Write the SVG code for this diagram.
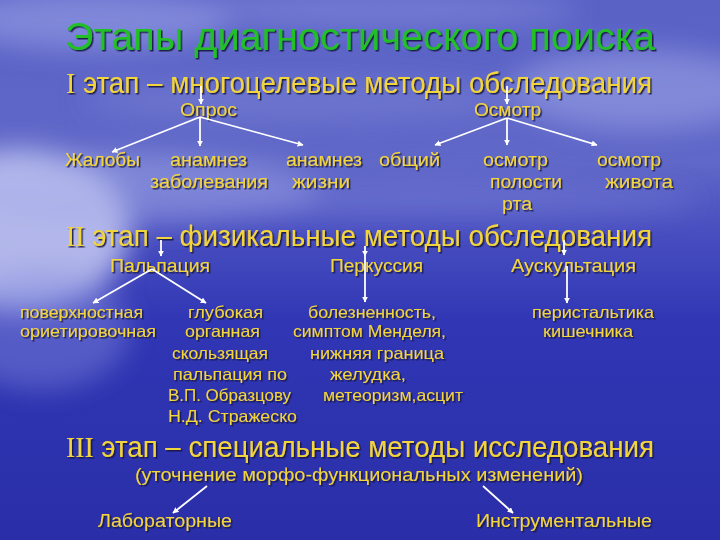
<svg xmlns="http://www.w3.org/2000/svg" width="720" height="540" viewBox="0 0 720 540">
<defs>
<linearGradient id="bg" x1="0" y1="0" x2="0" y2="1">
<stop offset="0" stop-color="#5a62c6"/>
<stop offset="0.3" stop-color="#6068c8"/>
<stop offset="0.42" stop-color="#4a50c0"/>
<stop offset="0.6" stop-color="#3036b4"/>
<stop offset="1" stop-color="#2a2ea8"/>
</linearGradient>
<radialGradient id="haze" cx="0" cy="0.5" r="1">
<stop offset="0" stop-color="#e8ecff" stop-opacity="0.9"/>
<stop offset="0.4" stop-color="#b8c0f0" stop-opacity="0.45"/>
<stop offset="1" stop-color="#8088e0" stop-opacity="0"/>
</radialGradient>
<filter id="blur" x="-50%" y="-50%" width="200%" height="200%"><feGaussianBlur stdDeviation="14"/></filter>
<filter id="sh" x="-5%" y="-20%" width="110%" height="140%"><feDropShadow dx="1.5" dy="1.5" stdDeviation="0.6" flood-color="#141440" flood-opacity="0.9"/></filter>
<marker id="ah" viewBox="0 0 10 10" refX="9" refY="5" markerWidth="6" markerHeight="6" orient="auto" markerUnits="userSpaceOnUse"><path d="M0,0 L10,5 L0,10 z" fill="#ffffff"/></marker>
<style>
.t{font-family:"Liberation Sans","DejaVu Sans",sans-serif;fill:#f2d43c;filter:url(#sh)}
.big{font-size:29px}
.mid{font-size:18px}
.sm{font-size:16.5px}
.title{font-family:"Liberation Sans","DejaVu Sans",sans-serif;font-size:38px;fill:#22c028;filter:url(#sh)}
.rom{font-family:"Liberation Serif",serif}
.c line{stroke:#ffffff;stroke-width:1.8;marker-end:url(#ah)}
</style>
</defs>
<rect width="720" height="540" fill="url(#bg)"/>
<g filter="url(#blur)" opacity="0.8">
<ellipse cx="90" cy="20" rx="140" ry="30" fill="#a8b0ee" opacity="0.6"/>
<ellipse cx="380" cy="10" rx="200" ry="18" fill="#9aa2e8" opacity="0.5"/>
<ellipse cx="640" cy="90" rx="130" ry="40" fill="#b0b8f0" opacity="0.55"/>
<ellipse cx="300" cy="100" rx="220" ry="22" fill="#8890dc" opacity="0.45"/>
<ellipse cx="20" cy="230" rx="110" ry="80" fill="#e6eaff" opacity="0.85"/>
<ellipse cx="120" cy="190" rx="200" ry="35" fill="#b8c0f2" opacity="0.5"/>
<ellipse cx="420" cy="200" rx="280" ry="20" fill="#8a92e0" opacity="0.4"/>
<ellipse cx="40" cy="330" rx="90" ry="60" fill="#9aa2e8" opacity="0.45"/>
</g>
<text class="title" x="65" y="50" textLength="590" lengthAdjust="spacingAndGlyphs">Этапы диагностического поиска</text>
<g id="stage1"><text class="t big" x="66" y="93" textLength="586" lengthAdjust="spacingAndGlyphs"><tspan class="rom">I</tspan> этап – многоцелевые методы обследования</text></g>
<g id="opros"><text class="t mid" x="180" y="116" textLength="57" lengthAdjust="spacingAndGlyphs">Опрос</text></g>
<g id="osmotr"><text class="t mid" x="474" y="116" textLength="67" lengthAdjust="spacingAndGlyphs">Осмотр</text></g>
<g id="zhaloby"><text class="t mid" x="65" y="166" textLength="75" lengthAdjust="spacingAndGlyphs">Жалобы</text></g>
<g id="anamnez-zab"><text class="t mid" x="170" y="166" textLength="77" lengthAdjust="spacingAndGlyphs">анамнез</text><text class="t mid" x="150" y="188" textLength="118" lengthAdjust="spacingAndGlyphs">заболевания</text></g>
<g id="anamnez-zh"><text class="t mid" x="286" y="166" textLength="76" lengthAdjust="spacingAndGlyphs">анамнез</text><text class="t mid" x="292" y="188" textLength="58" lengthAdjust="spacingAndGlyphs">жизни</text></g>
<g id="obshiy"><text class="t mid" x="379" y="166" textLength="61" lengthAdjust="spacingAndGlyphs">общий</text></g>
<g id="osm-rta"><text class="t mid" x="483" y="166" textLength="65" lengthAdjust="spacingAndGlyphs">осмотр</text><text class="t mid" x="490" y="188" textLength="72" lengthAdjust="spacingAndGlyphs">полости</text><text class="t mid" x="502" y="210" textLength="30" lengthAdjust="spacingAndGlyphs">рта</text></g>
<g id="osm-zhiv"><text class="t mid" x="597" y="166" textLength="64" lengthAdjust="spacingAndGlyphs">осмотр</text><text class="t mid" x="605" y="188" textLength="68" lengthAdjust="spacingAndGlyphs">живота</text></g>
<g id="stage2"><text class="t big" x="66" y="246" textLength="586" lengthAdjust="spacingAndGlyphs"><tspan class="rom">II</tspan> этап – физикальные методы обследования</text></g>
<g id="palp"><text class="t mid" x="110" y="272" textLength="100" lengthAdjust="spacingAndGlyphs">Пальпация</text></g>
<g id="perk"><text class="t mid" x="330" y="272" textLength="93" lengthAdjust="spacingAndGlyphs">Перкуссия</text></g>
<g id="ausk"><text class="t mid" x="511" y="272" textLength="125" lengthAdjust="spacingAndGlyphs">Аускультация</text></g>
<g id="poverh"><text class="t sm" x="20" y="318" textLength="123" lengthAdjust="spacingAndGlyphs">поверхностная</text><text class="t sm" x="20" y="337" textLength="136" lengthAdjust="spacingAndGlyphs">ориетировочная</text></g>
<g id="glub"><text class="t sm" x="188" y="318" textLength="75" lengthAdjust="spacingAndGlyphs">глубокая</text><text class="t sm" x="185" y="337" textLength="75" lengthAdjust="spacingAndGlyphs">органная</text><text class="t sm" x="172" y="359" textLength="96" lengthAdjust="spacingAndGlyphs">скользящая</text><text class="t sm" x="173" y="380" textLength="114" lengthAdjust="spacingAndGlyphs">пальпация по</text><text class="t sm" x="168" y="401" textLength="123" lengthAdjust="spacingAndGlyphs">В.П. Образцову</text><text class="t sm" x="168" y="422" textLength="129" lengthAdjust="spacingAndGlyphs">Н.Д. Стражеско</text></g>
<g id="bolezn"><text class="t sm" x="308" y="318" textLength="128" lengthAdjust="spacingAndGlyphs">болезненность,</text><text class="t sm" x="293" y="337" textLength="153" lengthAdjust="spacingAndGlyphs">симптом Менделя,</text><text class="t sm" x="310" y="359" textLength="134" lengthAdjust="spacingAndGlyphs">нижняя граница</text><text class="t sm" x="330" y="380" textLength="76" lengthAdjust="spacingAndGlyphs">желудка,</text><text class="t sm" x="323" y="401" textLength="140" lengthAdjust="spacingAndGlyphs">метеоризм,асцит</text></g>
<g id="perist"><text class="t sm" x="532" y="318" textLength="122" lengthAdjust="spacingAndGlyphs">перистальтика</text><text class="t sm" x="543" y="337" textLength="90" lengthAdjust="spacingAndGlyphs">кишечника</text></g>
<g id="stage3"><text class="t big" x="66" y="457" textLength="588" lengthAdjust="spacingAndGlyphs"><tspan class="rom">III</tspan> этап – специальные методы исследования</text><text class="t mid" x="135" y="481" textLength="448" lengthAdjust="spacingAndGlyphs">(уточнение морфо-функциональных изменений)</text></g>
<g id="lab"><text class="t mid" x="98" y="527" textLength="134" lengthAdjust="spacingAndGlyphs">Лабораторные</text></g>
<g id="instr"><text class="t mid" x="476" y="527" textLength="176" lengthAdjust="spacingAndGlyphs">Инструментальные</text></g>
<g id="connectors" class="c">
<line x1="201" y1="86" x2="201" y2="104"/>
<line x1="507" y1="86" x2="507" y2="104"/>
<line x1="200" y1="117" x2="112" y2="152"/>
<line x1="200" y1="117" x2="200" y2="146"/>
<line x1="200" y1="117" x2="303" y2="145"/>
<line x1="507" y1="118" x2="435" y2="145"/>
<line x1="507" y1="118" x2="507" y2="145"/>
<line x1="507" y1="118" x2="597" y2="145"/>
<line x1="161" y1="240" x2="161" y2="256"/>
<line x1="152" y1="269" x2="93" y2="303"/>
<line x1="152" y1="269" x2="206" y2="303"/>
<line x1="365" y1="246" x2="365" y2="256"/>
<line x1="365" y1="256" x2="365" y2="302"/>
<line x1="564" y1="240" x2="564" y2="255"/>
<line x1="567" y1="266" x2="567" y2="303"/>
<line x1="207" y1="486" x2="173" y2="513"/>
<line x1="483" y1="486" x2="513" y2="513"/>
</g>
</svg>
